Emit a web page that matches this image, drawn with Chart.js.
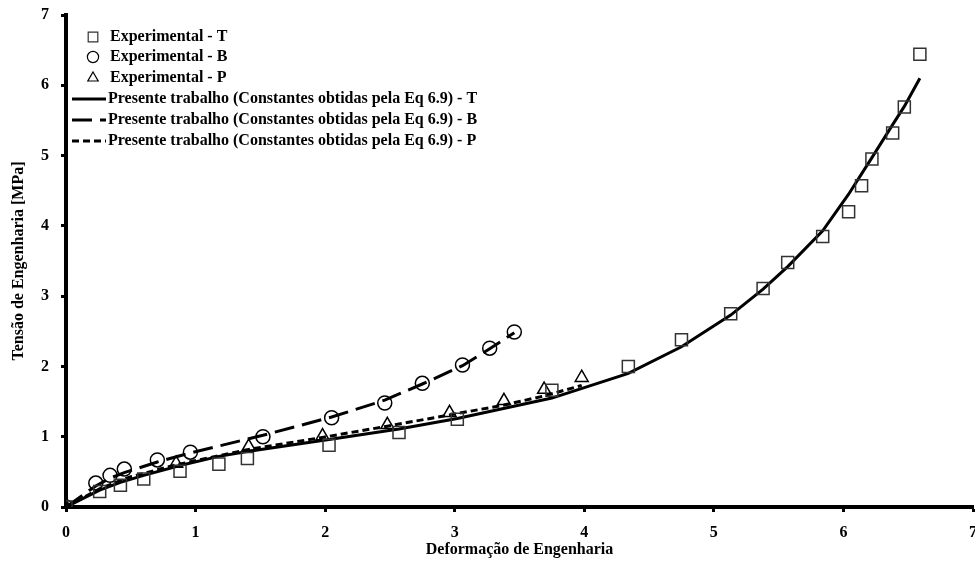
<!DOCTYPE html>
<html>
<head>
<meta charset="utf-8">
<script src="https://cdn.jsdelivr.net/npm/chart.js@4.4.1/dist/chart.umd.min.js"></script>
<style>
  html, body { margin: 0; padding: 0; background: #fff; overflow: hidden; }
  /* canvas um pouco mais largo que a janela: o "7" do eixo x fica cortado na borda, como no original */
  #wrap { width: 983px; height: 565px; }
</style>
</head>
<body>
<div id="wrap"><canvas id="chart" width="983" height="565"></canvas></div>
<script>
// Dados (deformacao x tensao)
const expTx = [0, 0.26, 0.42, 0.60, 0.88, 1.18, 1.40, 2.03, 2.57, 3.02, 3.75, 4.34, 4.75, 5.13, 5.38, 5.57, 5.84, 6.04, 6.14, 6.22, 6.38, 6.47, 6.59];
const expTy = [0, 0.22, 0.31, 0.40, 0.51, 0.61, 0.69, 0.88, 1.06, 1.25, 1.66, 2.00, 2.38, 2.75, 3.11, 3.48, 3.85, 4.20, 4.57, 4.95, 5.32, 5.69, 6.44];

const expBx = [0, 0.23, 0.34, 0.45, 0.705, 0.96, 1.52, 2.05, 2.46, 2.75, 3.06, 3.27, 3.46];
const expBy = [0, 0.34, 0.45, 0.54, 0.67, 0.78, 1.00, 1.27, 1.48, 1.76, 2.02, 2.26, 2.49];

const expPx = [0, 0.85, 1.41, 1.98, 2.48, 2.96, 3.38, 3.69, 3.98];
const expPy = [0, 0.62, 0.86, 1.01, 1.17, 1.34, 1.51, 1.67, 1.84];

// Modelo (Presente trabalho) - calculado nas mesmas deformacoes
const modTx = expTx;
const modTy = [0, 0.24, 0.35, 0.45, 0.59, 0.72, 0.79, 0.96, 1.11, 1.26, 1.55, 1.90, 2.28, 2.73, 3.10, 3.42, 3.93, 4.45, 4.74, 4.97, 5.44, 5.70, 6.10];

const modBx = expBx;
const modBy = [0, 0.30, 0.41, 0.49, 0.64, 0.77, 1.02, 1.28, 1.52, 1.75, 2.01, 2.25, 2.48];

const modPx = [0, 0.27, 0.50, 0.85, 1.41, 1.98, 2.48, 2.96, 3.38, 3.69, 3.98];
const modPy = [0, 0.27, 0.43, 0.60, 0.82, 0.99, 1.15, 1.31, 1.45, 1.58, 1.73];

const xTicks = [0, 1, 2, 3, 4, 5, 6, 7];
const yTicks = [0, 1, 2, 3, 4, 5, 6, 7];

const legendLabels = [
  'Experimental - T',
  'Experimental - B',
  'Experimental - P',
  'Presente trabalho (Constantes obtidas pela Eq 6.9) - T',
  'Presente trabalho (Constantes obtidas pela Eq 6.9) - B',
  'Presente trabalho (Constantes obtidas pela Eq 6.9) - P'
];

const FONT = '"Liberation Serif", "Times New Roman", serif';

// junta x e y em pontos
function pts(xs, ys) {
  return xs.map((x, i) => ({ x: x, y: ys[i] }));
}

// Legenda desenhada a mao, no canto superior esquerdo da area do grafico
const manualLegend = {
  id: 'manualLegend',
  afterDraw(chart) {
    const ctx = chart.ctx;
    const rows = [37, 57, 78, 99, 120, 141];
    ctx.save();
    ctx.font = 'bold 16px ' + FONT;
    ctx.textBaseline = 'middle';
    chart.data.datasets.forEach((ds, i) => {
      const y = rows[i];
      if (!ds.showLine) {
        // marcador vazio (so contorno)
        ctx.fillStyle = 'rgba(0,0,0,0)';
        ctx.strokeStyle = ds.pointBorderColor;
        ctx.lineWidth = 1.2;
        Chart.helpers.drawPoint(ctx, {
          pointStyle: ds.pointStyle,
          radius: ds.pointRadius * 0.8,
          borderWidth: 1.2
        }, 93, y);
        ctx.fillStyle = '#000';
        ctx.fillText(ds.label, 110, y);
      } else {
        ctx.beginPath();
        ctx.strokeStyle = '#000';
        ctx.lineWidth = 3;
        ctx.setLineDash(ds.borderDash || []);
        ctx.moveTo(72, y);
        ctx.lineTo(106, y);
        ctx.stroke();
        ctx.setLineDash([]);
        ctx.fillStyle = '#000';
        ctx.fillText(ds.label, 108, y);
      }
    });
    ctx.restore();
  }
};

const markerBase = {
  showLine: false,
  backgroundColor: 'rgba(0,0,0,0)',
  pointBackgroundColor: 'rgba(0,0,0,0)',
  pointBorderWidth: 1.5
};

const lineBase = {
  showLine: true,
  pointRadius: 0,
  pointHoverRadius: 0,
  borderColor: '#000',
  borderWidth: 3,
  tension: 0,
  fill: false
};

const ctx = document.getElementById('chart').getContext('2d');

const chart = new Chart(ctx, {
  type: 'scatter',
  data: {
    datasets: [
      Object.assign({}, markerBase, {
        label: legendLabels[0], data: pts(expTx, expTy),
        pointStyle: 'rect', pointRadius: 8.5, pointBorderColor: '#333'
      }),
      Object.assign({}, markerBase, {
        label: legendLabels[1], data: pts(expBx, expBy),
        pointStyle: 'circle', pointRadius: 7, pointBorderColor: '#000'
      }),
      Object.assign({}, markerBase, {
        label: legendLabels[2], data: pts(expPx, expPy),
        pointStyle: 'triangle', pointRadius: 7.5, pointBorderColor: '#000'
      }),
      Object.assign({}, lineBase, {
        label: legendLabels[3], data: pts(modTx, modTy)
      }),
      Object.assign({}, lineBase, {
        label: legendLabels[4], data: pts(modBx, modBy), borderDash: [20, 8]
      }),
      Object.assign({}, lineBase, {
        label: legendLabels[5], data: pts(modPx, modPy), borderDash: [7, 4]
      })
    ]
  },
  options: {
    responsive: false,
    animation: false,
    devicePixelRatio: 1,
    layout: { padding: { left: 0, top: 15, right: 0, bottom: 0 } },
    plugins: {
      legend: { display: false },
      tooltip: { enabled: false }
    },
    scales: {
      x: {
        type: 'linear',
        min: 0,
        max: 7,
        afterBuildTicks: (axis) => { axis.ticks = xTicks.map(v => ({ value: v })); },
        // fixa a altura do eixo x
        afterFit: (axis) => { axis.height = 58; axis.paddingRight = 2; axis.paddingLeft = 0; },
        border: { display: true, width: 4, color: '#000' },
        grid: { drawOnChartArea: false, drawTicks: true, tickLength: 5, tickWidth: 3, tickColor: '#000' },
        ticks: {
          color: '#000',
          padding: 11,
          font: { family: FONT, size: 16, weight: 'bold' }
        },
        title: {
          display: true,
          text: 'Deformação de Engenharia',
          color: '#000',
          padding: { top: 0, bottom: 6 },
          font: { family: FONT, size: 16, weight: 'bold' }
        }
      },
      y: {
        type: 'linear',
        min: 0,
        max: 7,
        afterBuildTicks: (axis) => { axis.ticks = yTicks.map(v => ({ value: v })); },
        afterFit: (axis) => { axis.width = 66; axis.paddingTop = 0; axis.paddingBottom = 0; },
        border: { display: true, width: 4, color: '#000' },
        grid: { drawOnChartArea: false, drawTicks: true, tickLength: 5, tickWidth: 3, tickColor: '#000' },
        ticks: {
          color: '#000',
          padding: 12,
          font: { family: FONT, size: 16, weight: 'bold' }
        },
        title: {
          display: true,
          text: 'Tensão de Engenharia [MPa]',
          color: '#000',
          padding: { top: 9, bottom: 0 },
          font: { family: FONT, size: 16, weight: 'bold' }
        }
      }
    }
  },
  plugins: [manualLegend]
});
</script>
</body>
</html>
